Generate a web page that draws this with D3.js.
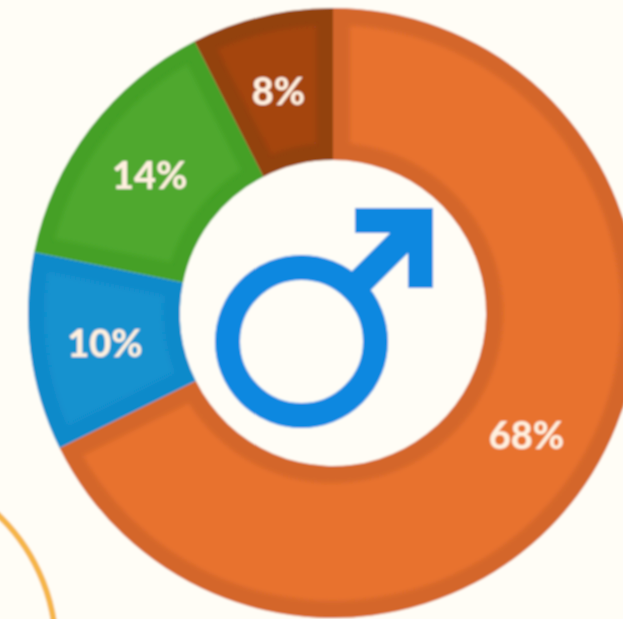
<!DOCTYPE html>
<html><head><meta charset="utf-8">
<script src="https://cdn.jsdelivr.net/npm/d3@7"></script>
<style>html,body{margin:0;padding:0;background:#FFFDF6;overflow:hidden}svg{display:block}</style>
</head><body><svg id="c" width="623" height="619"></svg>
<script>
const categories = ["A","B","C","D"];
const values = [67.7,10.5,14.3,7.5];
const labels = ["68%","10%","14%","8%"];
const lightColors = ["#E8722F","#1392CF","#4FA82F","#A5450F"];
const darkColors = ["#D4662B","#0F8ACA","#44A026","#93420F"];

const cx=333, cy=313, R=305, r=153, band=17;
const svg=d3.select("#c");
const defs=svg.append("defs");
const mk=(id,s)=>defs.append("filter").attr("id",id).attr("x","-5%").attr("y","-5%").attr("width","110%").attr("height","110%")
  .append("feGaussianBlur").attr("stdDeviation",s);
mk("soft",1.2); mk("band",2.2);
const root=svg.append("g").attr("filter","url(#soft)");
root.append("rect").attr("width",623).attr("height",619).attr("fill","#FFFDF6");

// decorative ring at lower left
root.append("circle").attr("cx",-131).attr("cy",650).attr("r",187)
  .attr("fill","none").attr("stroke","#F5B54A").attr("stroke-width",6);

const pie=d3.pie().sort(null).value(d=>d)(values);
const g=root.append("g").attr("transform",`translate(${cx},${cy})`);
const outer=d3.arc().innerRadius(r).outerRadius(R);
const inner=d3.arc().innerRadius(r+band).outerRadius(R-band).padAngle(2*band/((r+R)/2)).padRadius((r+R)/2);
g.selectAll("path.o").data(pie).join("path").attr("class","o").attr("d",outer).attr("fill",(d,i)=>darkColors[i]);
g.selectAll("path.i").data(pie).join("path").attr("class","i").attr("d",inner).attr("fill",(d,i)=>lightColors[i]).attr("filter","url(#band)");
g.selectAll("text").data(pie).join("text")
  .attr("transform",d=>{const c=outer.centroid(d);return `translate(${c[0]-1},${c[1]+1})`;})
  .attr("text-anchor","middle").attr("dy","0.36em")
  .attr("font-family","Lato").attr("font-weight",900).attr("font-size",38)
  .attr("fill","#FFF0DF").text((d,i)=>labels[i]);

// male symbol
root.append("circle").attr("cx",301.5).attr("cy",341.5).attr("r",74).attr("fill","none").attr("stroke","#0A88E0").attr("stroke-width",25);
root.append("path").attr("fill","#0A88E0").attr("d","M355,208H433V288H408V253L358,303L338,285L390,233H355Z");
</script></body></html>
